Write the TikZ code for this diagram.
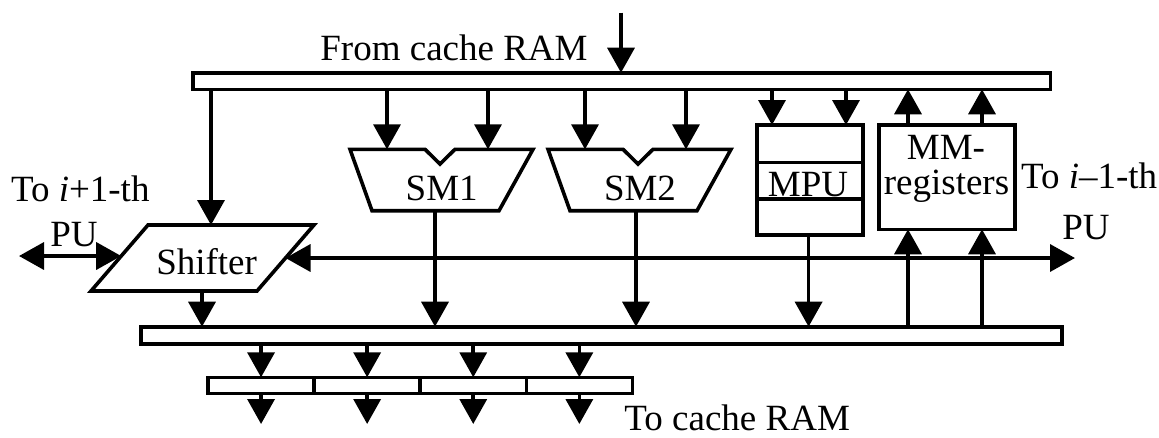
\documentclass[tikz,border=0pt]{standalone}
\usepackage{fontspec}
\setmainfont{Liberation Serif}
\usetikzlibrary{arrows.meta}
\begin{document}
\begin{tikzpicture}[x=1pt,y=-1pt,
  every node/.style={inner sep=0pt, outer sep=0pt},
  lw/.style={line width=3.6pt},
  bus/.style={draw, line width=3.6pt, fill=white, rectangle},
  unit/.style={draw, line width=3.6pt, fill=white, rectangle},
  tip/.style={Triangle[length=25pt,width=27pt]},
  arr/.style={line width=3.6pt, -{Triangle[length=25pt,width=27pt]}},
  darr/.style={line width=3.6pt, {Triangle[length=25pt,width=27pt]}-{Triangle[length=25pt,width=27pt]}},
  lbl/.style={font=\fontsize{37}{40}\selectfont, anchor=base}
]
\fill[white] (0,0) rectangle (1159,437);
\useasboundingbox (0,0) rectangle (1159,437);

% buses
\node[bus, minimum width=857.6pt, minimum height=16.6pt] (topbus) at (621.8,81) {};
\node[bus, minimum width=920.7pt, minimum height=17.3pt] (botbus) at (601.35,335.35) {};
\foreach \i in {0,...,3}
  \node[bus, minimum width=106.1pt, minimum height=16pt] (buf\i) at ({261.05+106.1*\i},385.3) {};

% shifter
\draw[lw, fill=white] (148,225) -- (314,225) -- (257,291) -- (91,291) -- cycle;
\node[lbl] (shiftlbl) at (206.6,274) {Shifter};
\coordinate (shin) at (211,225);
\coordinate (shout) at (202,291);
\coordinate (shleft) at (121.2,256);
\coordinate (shright) at (285.5,258);

% scaling multipliers
\draw[lw, fill=white] (350,149.3) -- (425,149.3) -- (440,164) -- (455,149.3) -- (533,149.3) -- (499,210.7) -- (372,210.7) -- cycle;
\node[lbl] (sm1lbl) at (441.7,200) {SM1};
\draw[lw, fill=white] (548,149.3) -- (623,149.3) -- (638,164) -- (653,149.3) -- (731,149.3) -- (697,210.7) -- (570,210.7) -- cycle;
\node[lbl] (sm2lbl) at (640,200) {SM2};
\coordinate (sm1a) at (387,149.3);
\coordinate (sm1b) at (488,149.3);
\coordinate (sm2a) at (585,149.3);
\coordinate (sm2b) at (686,149.3);
\coordinate (sm1out) at (435,210.7);
\coordinate (sm2out) at (636,210.7);

% MPU
\node[unit, minimum width=106pt, minimum height=110pt] (mpu) at (810,180) {};
\draw[lw] (mpu.west |- 0,162.3) -- (mpu.east |- 0,162.3);
\draw[lw] (mpu.west |- 0,199) -- (mpu.east |- 0,199);
\node[lbl] (mpulbl) at (808,196.7) {MPU};

% MM-registers
\node[unit, minimum width=136pt, minimum height=104.3pt] (mm) at (947,177.15) {};
\node[lbl] (mmlbl1) at (946,159.3) {MM-};
\node[lbl] (mmlbl2) at (946.5,194.3) {registers};

% labels
\node[lbl] (fromram) at (454,60.5) {From cache RAM};
\node[lbl, anchor=base west] (toprev) at (11,201.7) {To \textit{i}+1-th};
\node[lbl] (puleft) at (74,246) {PU};
\node[lbl, anchor=base west] (tonext) at (1021,188.5) {To \textit{i}–1-th};
\node[lbl] (puright) at (1086,239.3) {PU};
\node[lbl, anchor=base west] (toram) at (624.4,430.5) {To cache RAM};

% connectors
\coordinate (ramin) at (621,12.7);
\draw[arr] (ramin) -- (ramin |- topbus.north);
\draw[arr] (shin |- topbus.south) -- (shin);
\foreach \c in {sm1a,sm1b,sm2a,sm2b}
  \draw[arr] (\c |- topbus.south) -- (\c);
\foreach \x in {772,846}
  \draw[arr] (\x,0 |- topbus.south) -- (\x,0 |- mpu.north);
\foreach \x in {908,982} {
  \draw[arr] (\x,0 |- mm.north) -- (\x,0 |- topbus.south);
  \draw[arr] (\x,0 |- botbus.north) -- (\x,0 |- mm.south);
}
\coordinate (leftend) at (19,256);
\draw[darr] (leftend) -- (shleft);
\coordinate (rightend) at (1075,258);
\draw[darr] (shright) -- (rightend);
\draw[arr] (shout) -- (shout |- botbus.north);
\draw[arr] (sm1out) -- (sm1out |- botbus.north);
\draw[arr] (sm2out) -- (sm2out |- botbus.north);
\draw[arr] (mpu.south -| 808.6,0) -- (808.6,0 |- botbus.north);
\foreach \i in {0,...,3} {
  \draw[arr] (buf\i.north |- botbus.south) -- (buf\i.north);
  \draw[arr] (buf\i.south) -- (buf\i.south |- 0,424);
}
\end{tikzpicture}
\end{document}
